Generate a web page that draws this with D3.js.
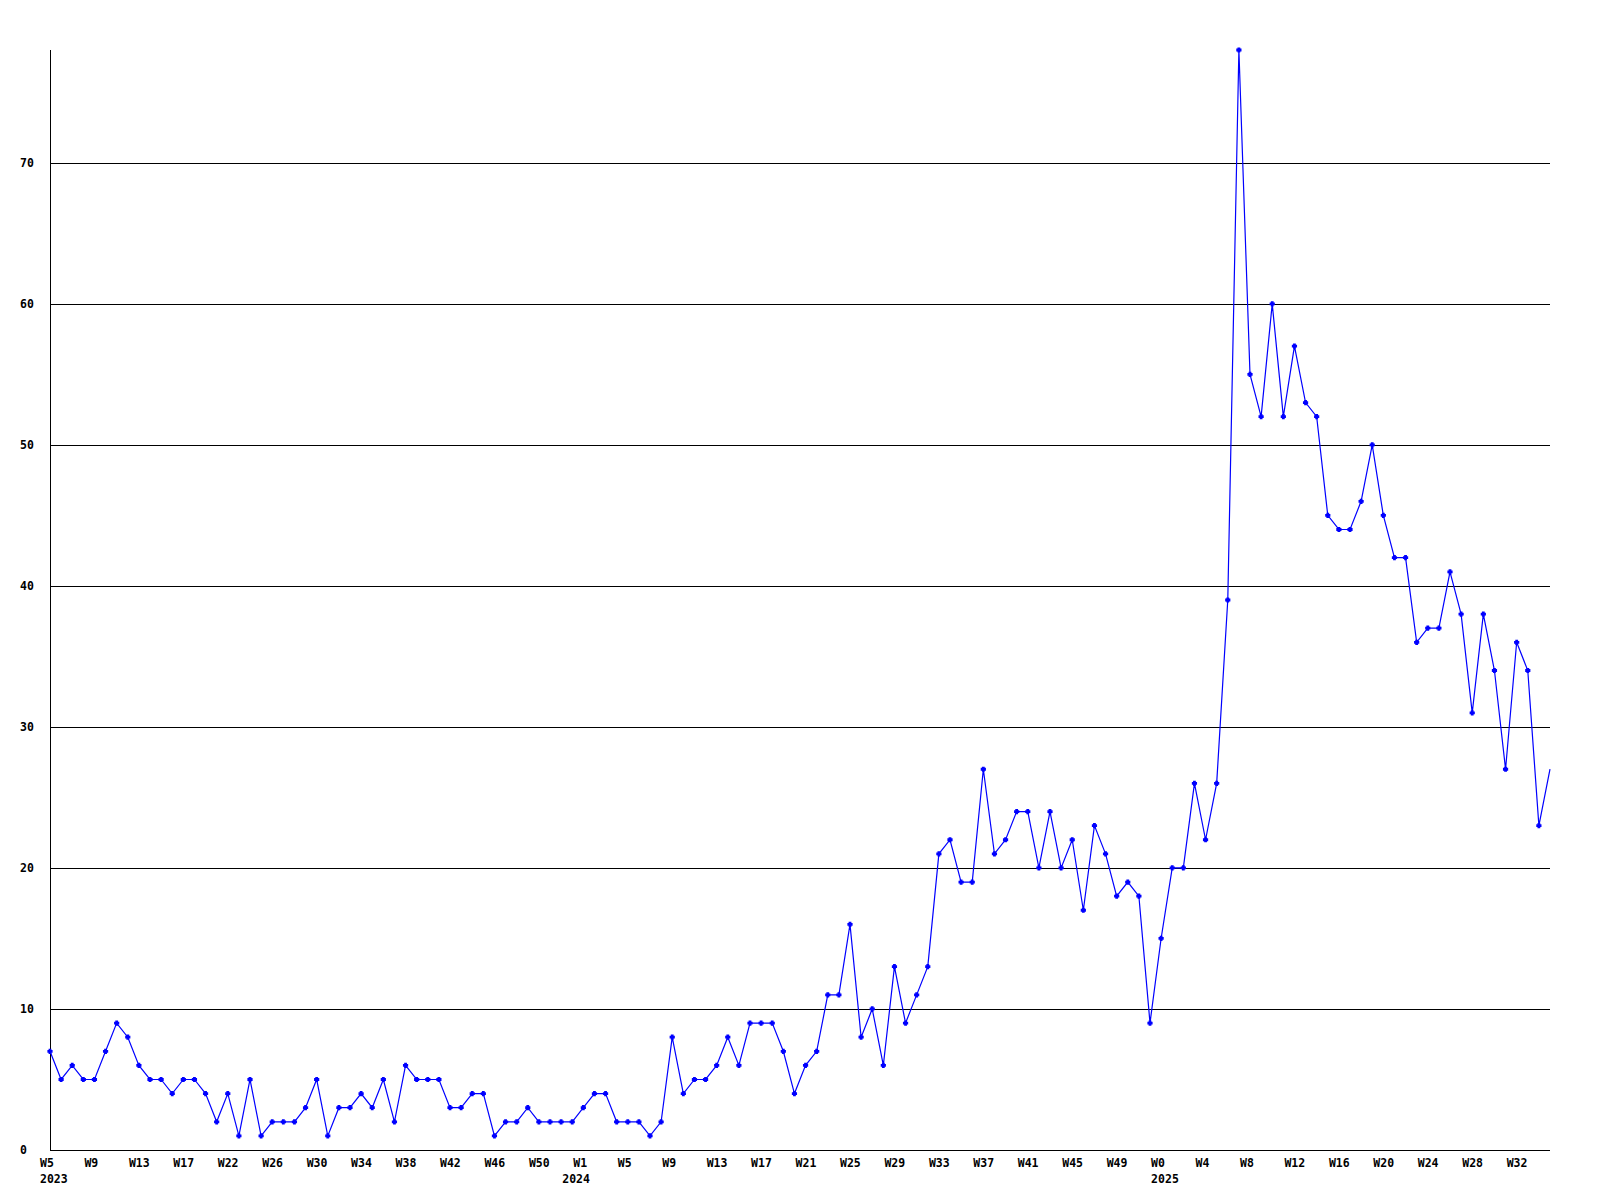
<!DOCTYPE html>
<html>
<head>
<meta charset="utf-8">
<script src="https://cdn.jsdelivr.net/npm/d3@7"></script>
<style>
  html, body { margin: 0; padding: 0; background: #ffffff; }
  svg { display: block; }
  text { font-family: "DejaVu Sans Mono", "Liberation Mono", monospace; font-weight: bold; font-size: 11.5px; fill: #000; }
</style>
</head>
<body>
<svg id="chart" width="1600" height="1200"></svg>
<script>
// Weekly values, 2023 W5 .. 2025 W35 (136 points)
const values = [
  7, 5, 6, 5, 5, 7, 9, 8, 6, 5, 5, 4, 5, 5, 4, 2, 4, 1, 5, 1,
  2, 2, 2, 3, 5, 1, 3, 3, 4, 3, 5, 2, 6, 5, 5, 5, 3, 3, 4, 4,
  1, 2, 2, 3, 2, 2, 2, 2, 3, 4, 4, 2, 2, 2, 1, 2, 8, 4, 5, 5,
  6, 8, 6, 9, 9, 9, 7, 4, 6, 7, 11, 11, 16, 8, 10, 6, 13, 9, 11, 13,
  21, 22, 19, 19, 27, 21, 22, 24, 24, 20, 24, 20, 22, 17, 23, 21, 18, 19, 18, 9,
  15, 20, 20, 26, 22, 26, 39, 78, 55, 52, 60, 52, 57, 53, 52, 45, 44, 44, 46, 50,
  45, 42, 42, 36, 37, 37, 41, 38, 31, 38, 34, 27, 36, 34, 23, 27
];

// Week tick labels (one every 4 points, starting at point 0)
const weekLabels = [
  "W5", "W9", "W13", "W17", "W22", "W26", "W30", "W34", "W38", "W42", "W46", "W50",
  "W1", "W5", "W9", "W13", "W17", "W21", "W25", "W29", "W33", "W37", "W41", "W45", "W49",
  "W0", "W4", "W8", "W12", "W16", "W20", "W24", "W28", "W32"
];
const weekStep = 4;

// Year labels and the point index where each year starts
const yearLabels = ["2023", "2024", "2025"];
const yearStarts = [0, 47, 100];

// Y gridline / tick values
const yTicks = [0, 10, 20, 30, 40, 50, 60, 70];
const yMax = 78;

(function () {
  const svg = d3.select("#chart");
  const pl = 50, pr = 1550, pt = 50, pb = 1150;

  const x = d3.scaleLinear().domain([0, values.length - 1]).range([pl, pr]);
  const y = d3.scaleLinear().domain([0, yMax]).range([pb, pt]);

  // gridlines
  svg.append("g").selectAll("line")
    .data(yTicks.filter(d => d > 0))
    .join("line")
    .attr("x1", pl).attr("x2", pr)
    .attr("y1", d => Math.round(y(d)) + 0.5).attr("y2", d => Math.round(y(d)) + 0.5)
    .attr("stroke", "#000").attr("stroke-width", 1).attr("shape-rendering", "crispEdges");

  // axes lines
  svg.append("line")
    .attr("x1", pl + 0.5).attr("x2", pl + 0.5)
    .attr("y1", pt).attr("y2", pb)
    .attr("stroke", "#000").attr("shape-rendering", "crispEdges");
  svg.append("line")
    .attr("x1", pl).attr("x2", pr)
    .attr("y1", pb + 0.5).attr("y2", pb + 0.5)
    .attr("stroke", "#000").attr("shape-rendering", "crispEdges");

  // y labels
  svg.append("g").selectAll("text")
    .data(yTicks)
    .join("text")
    .attr("x", 20)
    .attr("y", d => Math.round(y(d)) + 4)
    .attr("text-anchor", "start")
    .text(d => d);

  // x week labels
  svg.append("g").selectAll("text")
    .data(weekLabels)
    .join("text")
    .attr("x", (d, i) => x(i * weekStep) - 10)
    .attr("y", 1167)
    .attr("text-anchor", "start")
    .text(d => d);

  // year labels
  svg.append("g").selectAll("text")
    .data(yearLabels)
    .join("text")
    .attr("x", (d, i) => x(yearStarts[i]) - 10)
    .attr("y", 1183)
    .attr("text-anchor", "start")
    .text(d => d);

  // line
  const line = d3.line().x((d, i) => x(i)).y(d => y(d));
  svg.append("path")
    .datum(values)
    .attr("d", line)
    .attr("fill", "none")
    .attr("stroke", "#0000ff")
    .attr("stroke-width", 1.2);

  // markers: small filled plus/rounded-square shape
  const plusMark = {
    draw(ctx) {
      const a = 2.6, b = 1.4;
      ctx.moveTo(-b, -a); ctx.lineTo(b, -a); ctx.lineTo(b, -b); ctx.lineTo(a, -b);
      ctx.lineTo(a, b); ctx.lineTo(b, b); ctx.lineTo(b, a); ctx.lineTo(-b, a);
      ctx.lineTo(-b, b); ctx.lineTo(-a, b); ctx.lineTo(-a, -b); ctx.lineTo(-b, -b);
      ctx.closePath();
    }
  };
  const sym = d3.symbol().type(plusMark);
  svg.append("g").selectAll("path")
    .data(values.slice(0, values.length - 1))
    .join("path")
    .attr("transform", (d, i) => `translate(${x(i)},${y(d)})`)
    .attr("d", sym)
    .attr("fill", "#0000ff");
})();
</script>
</body>
</html>
